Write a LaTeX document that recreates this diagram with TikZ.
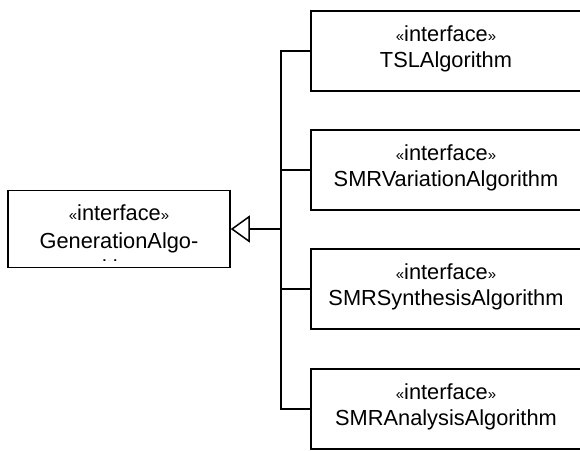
\documentclass[tikz,border=0pt]{standalone}
\usepackage{fontspec}
\setmainfont{Liberation Sans}
\usetikzlibrary{arrows.meta}
\newcommand{\myLq}{{\fontsize{15}{15}\selectfont «}}
\newcommand{\myRq}{{\fontsize{15}{15}\selectfont »}}
\begin{document}
\begin{tikzpicture}[x=1pt,y=-1pt,
  txt/.style={font=\fontsize{21.8}{26}\selectfont},
  iface/.style={draw, line width=1.5pt, minimum width=270pt, minimum height=80pt, inner sep=0pt},
  lbl/.style={align=center, txt},
  gbox/.style={draw, line width=1.5pt, minimum width=222pt, minimum height=77pt, inner sep=0pt},
  link/.style={line width=1.5pt}]
\useasboundingbox (0,0) rectangle (580,450);
\clip (0,0) rectangle (580,450);
\node[iface] (tsl) at (446,51) {};
\node[iface] (var) at (446,170) {};
\node[iface] (syn) at (446,289) {};
\node[iface] (ana) at (446,409) {};
\node[lbl] (tslt) at ([yshift=2pt]tsl.center) {\myLq interface\myRq\\TSLAlgorithm};
\node[lbl] (vart) at ([yshift=2pt]var.center) {\myLq interface\myRq\\SMRVariationAlgorithm};
\node[lbl] (synt) at ([yshift=2pt]syn.center) {\myLq interface\myRq\\SMRSynthesisAlgorithm};
\node[lbl] (anat) at ([yshift=2pt]ana.center) {\myLq interface\myRq\\SMRAnalysisAlgorithm};
\node[gbox] (gen) at (119,229) {};
\begin{scope}
  \clip (8,191) rectangle (230,260);
  \node[txt, anchor=base] (g1) at (119,220) {\myLq interface\myRq};
  \node[txt, anchor=base] (g2) at (119,248) {GenerationAlgo-};
  \node[txt, anchor=base] (g3) at (119,275) {rithm};
\end{scope}
\coordinate (j) at (281,229);
\draw[link] (tsl.west) -| (j);
\draw[link] (var.west) -| (j);
\draw[link] (syn.west) -| (j);
\draw[link] (ana.west) -| (j);
\draw[link, -{Triangle[open, length=19pt, width=27pt]}] (j) -- (gen.east);
\end{tikzpicture}
\end{document}
